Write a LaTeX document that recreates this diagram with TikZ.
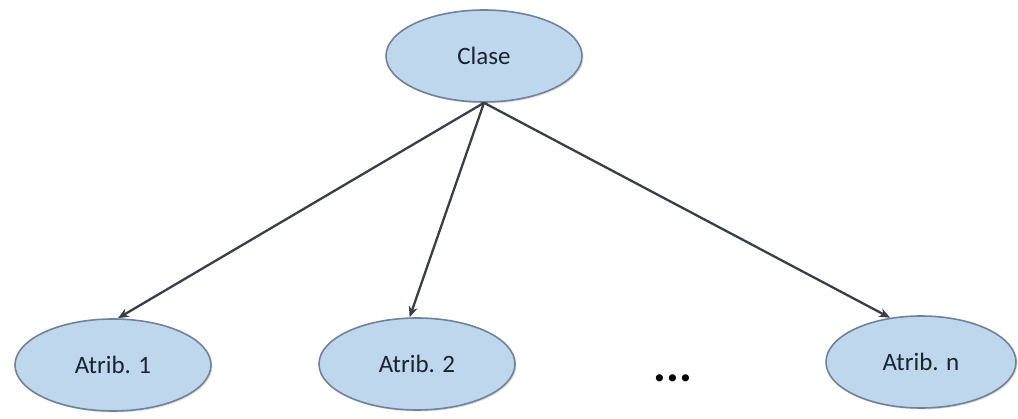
\documentclass[tikz,border=0pt]{standalone}
\usepackage{fontspec}
\setmainfont{Carlito}
\usetikzlibrary{shapes.geometric,arrows.meta,shadows}
\definecolor{nodefill}{RGB}{191,215,237}
\definecolor{nodeline}{RGB}{112,130,155}
\definecolor{linkcol}{RGB}{58,62,70}
\definecolor{textcol}{RGB}{25,35,50}
\tikzset{
  oval/.style={ellipse, draw=nodeline, line width=1.6pt, fill=nodefill,
    minimum width=196pt, minimum height=92pt, inner sep=0pt,
    text=textcol, font=\fontsize{25}{30}\selectfont,
    drop shadow={shadow xshift=1.5pt, shadow yshift=-1.5pt, opacity=0.25}},
  link/.style={draw=linkcol, line width=2.3pt,
    -{Stealth[length=11pt,width=9pt]}}
}
\begin{document}
\begin{tikzpicture}[x=1pt,y=-1pt]
  \useasboundingbox (0,0) rectangle (1018,419);
  \node[oval] (c) at (484,56) {Clase};
  \node[oval] (a1) at (113,365) {Atrib. 1};
  \node[oval] (a2) at (417,364) {Atrib. 2};
  \node[oval, minimum width=190pt] (an) at (921,362) {Atrib. n};
  \node[anchor=base, inner sep=0pt, text=black,
        font=\fontsize{48}{50}\selectfont\bfseries] (dots) at (673,382) {...};
  \draw[link] (c.south) -- (a1.84);
  \draw[link] (c.south) -- (a2.99);
  \draw[link] (c.south) -- (an.125);
\end{tikzpicture}
\end{document}
